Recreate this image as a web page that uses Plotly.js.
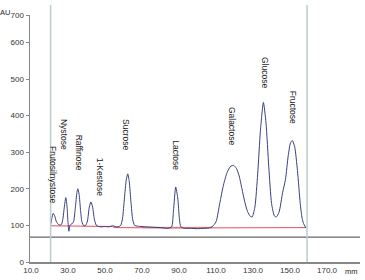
<!DOCTYPE html>
<html><head><meta charset="utf-8">
<script src="https://cdn.plot.ly/plotly-3.0.1.min.js"></script>
<style>html,body{margin:0;padding:0;background:#fff}#c{width:365px;height:280px}</style>
</head><body><div id="c"></div>
<script>
// Chromatogram (retention in mm, signal in AU)
const retention = [20.6,21.2,22.0,22.8,23.6,24.5,25.5,26.5,27.3,28.0,28.8,29.5,30.0,30.5,31.0,32.0,33.0,34.0,34.8,35.3,36.0,36.8,37.5,38.5,39.5,40.5,41.5,42.4,43.3,44.2,45.2,46.5,48.0,50.0,52.0,54.0,55.5,57.0,58.5,59.5,60.5,61.5,62.3,63.1,64.0,65.0,66.0,67.5,70.0,73.0,76.0,80.0,84.0,86.0,87.0,88.2,89.3,90.2,91.0,93.0,96.0,100.0,103.0,106.0,108.0,110.0,112.0,114.0,116.0,118.0,119.5,121.0,122.5,124.0,125.5,127.0,128.5,129.5,131.0,132.5,134.0,135.6,137.0,138.5,140.0,141.5,142.5,144.0,146.0,147.5,149.0,150.2,151.2,152.5,154.0,155.5,156.5,157.3,158.6];
const signal    = [102,118,133,126,112,104,101,103,120,150,176,150,108,84,100,104,110,150,190,200,185,140,110,99,100,112,150,164,150,118,101,97,96,97,96,99,97,96,100,120,175,225,241,220,165,115,100,98,97,96,95,94,92,96,140,205,175,118,96,92,92,91,92,93,97,110,160,210,245,262,264,256,235,200,165,138,125,123,150,240,360,436,380,260,160,126,123,135,190,225,290,325,332,315,250,160,120,105,93];
// Integration baseline
const baseX = [20.6,54.0,55.0,90.0,158.6];
const baseY = [99,97,94,93,94];
const tanX = [70,108];
const tanY = [94,94];
// Peak labels
const peakNames = ["Frutosilnystose","Nystose","Raffinose","1-Kestose","Sucrose","Lactose","Galactose","Glucose","Fructose"];
const labelX = [22.2,28.2,35.7,47.0,61.3,88.3,119.0,136.2,151.3];
const labelY = [239,348,300,232,347,292,370,518,423];
// Axis ticks
const yTickVals = [0,100,200,300,400,500,600,675];
const yTickText = ["0","100","200","300","400","500","600","700"];
const xTickVals = [10,30,50,70,90,110,130,150,170];
const xTickText = ["10.0","30.0","50.0","70.0","90.0","110.0","130.0","150.0","170.0"];
const markerLines = [20.6,159.2];
const refLevel = 68;

const fontFam = "Liberation Sans, Arial, sans-serif";
const traces = [
  {x: tanX, y: tanY, mode:'lines', line:{color:'#cdb3a6', width:1.5}, hoverinfo:'skip'},
  {x: baseX, y: baseY, mode:'lines', line:{color:'#e0525a', width:1}, hoverinfo:'skip'},
  {x: retention, y: signal, mode:'lines', line:{color:'#38407f', width:1, shape:'spline', smoothing:0.6}}
];
const shapes = [
  {type:'line', xref:'paper', yref:'y', x0:0, x1:1, y0:refLevel, y1:refLevel, line:{color:'#666', width:1.2}},
];
markerLines.forEach(v => shapes.push({type:'line', xref:'x', yref:'paper', x0:v, x1:v, y0:0, y1:1.04, line:{color:'#b9cfcb', width:1.5}}));
const annotations = peakNames.map((t,i)=>({x:labelX[i], y:labelY[i], xref:'x', yref:'y', text:t, showarrow:false, textangle:90, font:{family:fontFam, size:8.5, color:'#222'}}));
annotations.push({xref:'paper', yref:'paper', x:-0.075, y:1.012, xanchor:'center', yanchor:'middle', text:'AU', showarrow:false, font:{family:fontFam,size:7.5,color:'#222'}});
annotations.push({xref:'paper', yref:'paper', x:1.0, y:-0.04, xanchor:'right', yanchor:'middle', text:'mm', showarrow:false, font:{family:fontFam,size:7.5,color:'#222'}});

const layout = {
  width:365, height:280,
  margin:{l:30, r:5, t:14.5, b:18},
  paper_bgcolor:'#fff', plot_bgcolor:'#fff',
  showlegend:false,
  xaxis:{range:[9.46,187.8], tickvals:xTickVals, ticktext:xTickText, showgrid:false, zeroline:false,
         showline:true, linecolor:'#888', linewidth:1.5, ticks:'', tickfont:{family:fontFam,size:8,color:'#333'}},
  yaxis:{range:[0,675], tickvals:yTickVals, ticktext:yTickText, showgrid:false, zeroline:false,
         showline:true, linecolor:'#888', linewidth:1.5, ticks:'outside', ticklen:3, tickcolor:'#888',
         tickfont:{family:fontFam,size:8,color:'#333'}},
  shapes, annotations
};
Plotly.newPlot('c', traces, layout, {staticPlot:true, displayModeBar:false});
</script></body></html>
